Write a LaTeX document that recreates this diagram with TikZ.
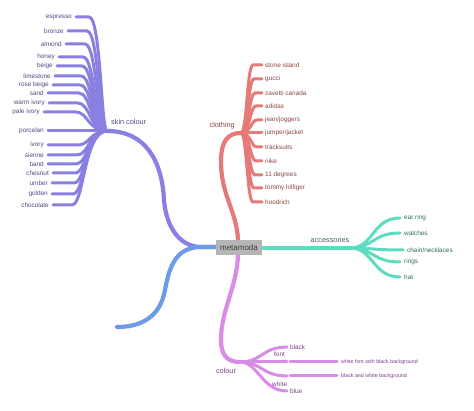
\documentclass[tikz,border=0pt]{standalone}
\usepackage{fontspec}
\setmainfont{Liberation Sans}
\newcommand{\myslash}{/}
\begin{document}
\begin{tikzpicture}[x=1pt,y=-1pt,
  mainbr/.style={line width=4.2pt,line cap=round},
  leafbr/.style={line width=3pt,line cap=round},
  lbl/.style={inner sep=0pt,font=\fontsize{6.4}{7}\selectfont},
  brlbl/.style={inner sep=0pt,font=\fontsize{7.3}{8}\selectfont},
  smalllbl/.style={inner sep=0pt,font=\fontsize{5.3}{6}\selectfont}]
\definecolor{skinC}{HTML}{8A80E2}
\definecolor{skinT}{HTML}{4C4A86}
\definecolor{clothC}{HTML}{E57A78}
\definecolor{clothT}{HTML}{8A4646}
\definecolor{accC}{HTML}{5EDCC0}
\definecolor{accT}{HTML}{2F6B5E}
\definecolor{colC}{HTML}{D98CE6}
\definecolor{colT}{HTML}{7A3E88}
\definecolor{blueC}{HTML}{6E9BE6}
\definecolor{boxC}{HTML}{B5B5B5}
\useasboundingbox (0,0) rectangle (474,411);
\fill[white] (0,0) rectangle (474,411);

% ---------- coordinates ----------
\coordinate (cl) at (215,247);
\coordinate (cm) at (200,247);
\coordinate (ct) at (238,240);
\coordinate (cbm) at (238,256);
\coordinate (cr) at (262,248);
\coordinate (sb) at (107,131);
\coordinate (cb) at (241,133);
\coordinate (ab) at (350,248);
\coordinate (kb) at (240,362);
\coordinate (be) at (117,327);

% ---------- main branches ----------
\draw[mainbr,draw=skinC] (cl) -- (cm) .. controls (178,246) and (166,225) .. (164,200)
  .. controls (162,160) and (145,131) .. (sb);
\draw[mainbr,draw=blueC] (cl) -- (cm) .. controls (178,248) and (170,262) .. (165,290)
  .. controls (160,318) and (140,327) .. (be);
\draw[mainbr,draw=clothC] (ct) .. controls (237,212) and (221,195) .. (221,162)
  .. controls (221,142) and (227,133) .. (cb);
\draw[mainbr,draw=accC] (cr) -- (ab);
\draw[mainbr,draw=colC] (cbm) .. controls (236,290) and (221,310) .. (221,340)
  .. controls (221,355) and (227,362) .. (kb);

% ---------- skin colour leaves ----------
\foreach \i/\t/\y/\xe/\xt in {1/espresso/17/76/101,2/bronze/31/68/99,3/almond/44/66/97,
  4/honey/57/59/95,5/beige/66/57/94,6/limestone/76/55/93,7/rose beige/85/53/92,
  8/sand/93/48/91,9/warm ivory/103/49/90,10/pale ivory/112/44/88,11/porcelan/131/48/85,
  12/ivory/145/48/90,13/sienne/155/48/89,14/band/164/48/88,15/chesnut/173/53/87,
  16/umber/183/52/86,17/golden/194/52/85,18/chocolate/205/53/84}{
  \coordinate (s\i) at (\xe,\y);
  \draw[leafbr,draw=skinC] (sb) .. controls (\xt,131) and (\xt,\y) .. (\xt-12,\y) -- (s\i);
  \node[lbl,text=skinT,anchor=east] (sl\i) at (\xe-4,\y) {\t};
}

% ---------- clothing leaves ----------
\foreach \i/\t/\y/\xt in {1/stone island/65/247,2/gucci/79/248,3/zavetti canada/93/249,
  4/adidas/106/250,5/jean\myslash joggers/120/251,6/jumper\myslash jacket/133/251,7/tracksuits/147/251,
  8/nike/161/250,9/11 degrees/175/249,10/tommy hilfiger/188/248,11/hoodrich/202/247}{
  \coordinate (c\i) at (262,\y);
  \draw[leafbr,draw=clothC] (cb) .. controls (\xt,133) and (\xt,\y) .. (\xt+6,\y) -- (c\i);
  \node[lbl,text=clothT,anchor=west] (cll\i) at (265,\y) {\t};
}

% ---------- accessories leaves ----------
\foreach \i/\t/\y/\xe in {1/ear ring/218/400,2/watches/233/400,3/chain\myslash necklaces/250/403,
  4/rings/262/400,5/hat/277/400}{
  \coordinate (a\i) at (\xe,\y);
  \draw[leafbr,draw=accC] (ab) .. controls (374,248) and (372,\y) .. (a\i);
  \node[lbl,text=accT,anchor=west] (al\i) at (\xe+4,\y) {\t};
}

% ---------- colour leaves ----------
\coordinate (k1) at (287,347);
\coordinate (k2) at (287,362);
\coordinate (k3) at (287,376);
\coordinate (k4) at (287,391);
\coordinate (k2a) at (290,362);
\coordinate (k2b) at (337,362);
\coordinate (k3a) at (290,376);
\coordinate (k3b) at (337,376);
\draw[leafbr,draw=colC] (kb) .. controls (262,362) and (262,347) .. (k1);
\draw[leafbr,draw=colC] (kb) -- (k2);
\draw[leafbr,draw=colC] (kb) .. controls (262,362) and (262,376) .. (k3);
\draw[leafbr,draw=colC] (kb) .. controls (258,362) and (262,391) .. (k4);
\draw[leafbr,draw=colC] (k2a) -- (k2b);
\draw[leafbr,draw=colC] (k3a) -- (k3b);
\node[lbl,text=colT,anchor=west] (kl1) at (290,347) {black};
\node[lbl,text=colT,anchor=west] (kl2) at (274,354) {font};
\node[smalllbl,text=colT,anchor=west] (kl3) at (341,362) {white font with black background};
\node[smalllbl,text=colT,anchor=west] (kl4) at (341,376) {black and white background};
\node[lbl,text=colT,anchor=west] (kl5) at (272,384) {white};
\node[lbl,text=colT,anchor=west] (kl6) at (290,391) {blue};

% ---------- branch labels ----------
\node[brlbl,text=skinT,anchor=west] (skinlbl) at (111,122) {skin colour};
\node[brlbl,text=clothT,anchor=east] (clothlbl) at (235,126) {clothing};
\node[brlbl,text=accT] (acclbl) at (330,240) {accessories};
\node[brlbl,text=colT] (collbl) at (226,371) {colour};

% ---------- central node ----------
\node[fill=boxC,minimum width=46pt,minimum height=15pt,inner sep=0pt,
  text=black!75,font=\fontsize{8}{9}\selectfont] (root) at (239,247.5) {metamoda};
\end{tikzpicture}
\end{document}
